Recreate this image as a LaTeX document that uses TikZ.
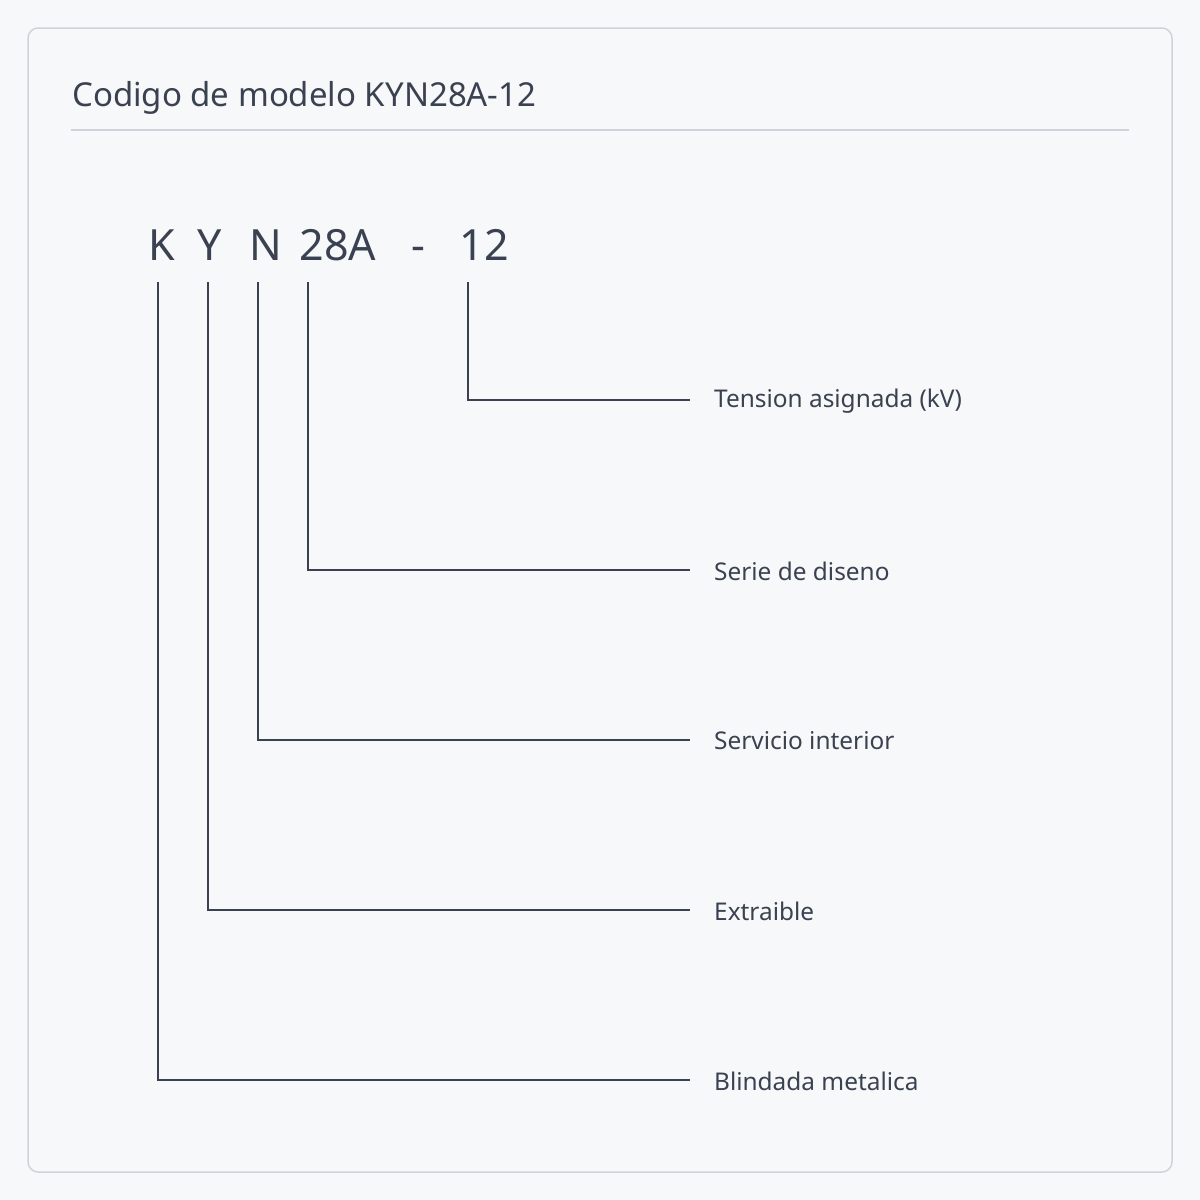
\documentclass[tikz,border=0pt]{standalone}
\usepackage{fontspec}
\setmainfont{Noto Sans}
\definecolor{bg}{HTML}{F7F8FA}
\definecolor{frame}{HTML}{D0D4DA}
\definecolor{ink}{HTML}{3A4150}
\begin{document}
\begin{tikzpicture}[x=1pt,y=-1pt,
  lbl/.style={anchor=west,text=ink,font=\fontsize{24.4}{28}\selectfont,inner sep=0pt},
  code/.style={anchor=base,text=ink,font=\fontsize{43}{50}\selectfont,inner sep=0pt},
  ln/.style={draw=ink,line width=1.6pt}]
\useasboundingbox (0,0) rectangle (1200,1200);
\fill[bg] (0,0) rectangle (1200,1200);
\draw[frame,line width=1.5pt,rounded corners=10pt] (28,28) rectangle (1172,1172);
\node[anchor=base west,text=ink,font=\fontsize{33}{38}\selectfont,inner sep=0pt] (title) at (72,106) {Codigo de modelo KYN28A-12};
\draw[frame,line width=1.5pt] (71,130) -- (1129,130);
\node[code] (k) at (162,260) {K};
\node[code] (y) at (210,260) {Y};
\node[code] (n) at (266,260) {N};
\node[code] (m) at (338,260) {28A};
\node[code] (d) at (418,260) {-};
\node[code] (v) at (484,260) {12};
\coordinate (k0) at (158,282); \coordinate (y0) at (208,282); \coordinate (n0) at (258,282);
\coordinate (m0) at (308,282); \coordinate (v0) at (468,282);
\coordinate (ke) at (690,1080); \coordinate (ye) at (690,910); \coordinate (ne) at (690,740);
\coordinate (me) at (690,570); \coordinate (ve) at (690,400);
\draw[ln] (v0) |- (ve); \draw[ln] (m0) |- (me); \draw[ln] (n0) |- (ne);
\draw[ln] (y0) |- (ye); \draw[ln] (k0) |- (ke);
\node[lbl] (lv) at (714,401) {Tension asignada (kV)};
\node[lbl] (lm) at (714,571) {Serie de diseno};
\node[lbl] (ln) at (714,741) {Servicio interior};
\node[lbl] (ly) at (714,911) {Extraible};
\node[lbl] (lk) at (714,1081) {Blindada metalica};
\end{tikzpicture}
\end{document}
